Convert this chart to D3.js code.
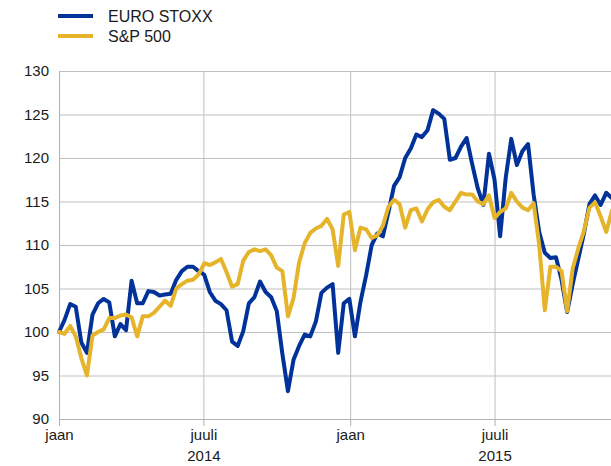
<!DOCTYPE html>
<html>
<head>
<meta charset="utf-8">
<script src="https://cdn.jsdelivr.net/npm/d3@7"></script>
<style>
  body { margin: 0; background: #fff; }
  svg { display: block; font-family: "Liberation Sans", Arial, sans-serif; }
</style>
</head>
<body>
<div id="chart-container"></div>
<script>
// weekly observations, index 1 Jan 2014 = 100
var startDate = "2014-01-01";

var euroStoxx = [
	100.0, 101.4, 103.2, 102.9, 98.8, 97.6, 102.0, 103.3, 103.8, 103.4,
	99.5, 100.9, 100.2, 105.9, 103.3, 103.3, 104.7, 104.6, 104.2, 104.3,
	104.4, 106.0, 107.0, 107.5, 107.5, 107.0, 106.6, 104.6, 103.6, 103.2,
	102.5, 98.9, 98.4, 100.1, 103.3, 104.0, 105.8, 104.6, 104.0, 102.4,
	97.5, 93.2, 96.8, 98.4, 99.7, 99.5, 101.2, 104.5, 105.1, 105.5,
	97.6, 103.3, 103.8, 99.5, 103.5, 106.5, 110.0, 111.3, 111.0, 113.8,
	116.8, 117.8, 120.0, 121.1, 122.7, 122.4, 123.2, 125.5, 125.1, 124.5,
	119.8, 120.0, 121.3, 122.3, 119.3, 116.5, 114.6, 120.5, 117.5, 111.0,
	117.7, 122.2, 119.2, 120.8, 121.6, 115.8, 111.5, 109.1, 108.5, 108.6,
	106.0, 102.3, 105.5, 108.4, 111.3, 114.7, 115.7, 114.6, 116.0, 115.4
];

var sp500 = [
	100.0, 99.8, 100.7, 99.5, 97.0, 95.0, 99.6, 100.0, 100.3, 101.6,
	101.6, 101.9, 102.0, 101.7, 99.5, 101.8, 101.8, 102.2, 102.9, 103.6,
	103.0, 105.0, 105.5, 105.9, 106.0, 106.6, 107.9, 107.7, 108.0, 108.4,
	106.9, 105.2, 105.5, 108.2, 109.2, 109.5, 109.3, 109.5, 108.8, 107.4,
	107.0, 101.8, 103.9, 108.0, 110.2, 111.4, 111.9, 112.2, 113.0, 111.8,
	107.6, 113.5, 113.8, 109.4, 112.0, 111.8, 110.8, 111.1, 112.2, 114.4,
	115.2, 114.7, 112.0, 114.0, 114.2, 112.7, 114.1, 114.9, 115.2, 114.4,
	114.0, 115.0, 116.0, 115.8, 115.8, 115.0, 114.7, 115.7, 113.1, 113.8,
	114.2, 116.0, 115.0, 114.3, 114.0, 114.8, 110.0, 102.5, 107.5, 107.5,
	107.0, 102.4, 107.3, 109.6, 111.6, 114.3, 114.9, 113.3, 111.5, 113.9
];

var seriesNames = ["EURO STOXX", "S&P 500"];
var seriesColors = ["#003299", "#e5b42a"];

var xTickDates = ["2014-01-01", "2014-07-01", "2015-01-01", "2015-07-01"];
var xTickLabels = ["jaan", "juuli", "jaan", "juuli"];
var xTickYears = ["", "2014", "", "2015"];
var yTicks = [90, 95, 100, 105, 110, 115, 120, 125, 130];

var size = { width: 611, height: 466 };
var margin = { top: 71, right: 0, bottom: 47, left: 59 };
var plotWidth = size.width - margin.left - margin.right;
var plotHeight = size.height - margin.top - margin.bottom;

var parseDate = d3.timeParse("%Y-%m-%d");
var start = parseDate(startDate);

var svg = d3.select("#chart-container")
	.append("svg")
	.attr("width", size.width)
	.attr("height", size.height);

var x = d3.scaleTime()
	.domain([start, parseDate("2015-11-24")])
	.range([margin.left, margin.left + plotWidth]);

var y = d3.scaleLinear()
	.domain([90, 130])
	.range([margin.top + plotHeight, margin.top]);

// horizontal grid
svg.append("g")
	.attr("class", "grid")
	.attr("transform", "translate(" + margin.left + ",0)")
	.call(d3.axisLeft(y).tickValues(yTicks).tickSize(-plotWidth).tickFormat(""))
	.call(function(g) { g.select(".domain").remove(); });

// vertical grid
svg.append("g")
	.attr("class", "grid")
	.attr("transform", "translate(0," + margin.top + ")")
	.call(d3.axisBottom(x).tickValues(xTickDates.map(parseDate)).tickSize(plotHeight).tickFormat(""))
	.call(function(g) { g.select(".domain").remove(); });

svg.selectAll(".grid line")
	.attr("stroke", "#c0c0c0")
	.attr("stroke-width", 1);

// y axis
var yAxis = svg.append("g")
	.attr("transform", "translate(" + margin.left + ",0)")
	.call(d3.axisLeft(y).tickValues(yTicks).tickSize(0).tickPadding(10));

yAxis.select(".domain").attr("stroke", "#b0b0b0");
yAxis.selectAll("text")
	.attr("font-size", 15)
	.attr("font-family", "Liberation Sans, Arial, sans-serif")
	.attr("fill", "#1a1a1a");

// x axis
var xAxis = svg.append("g")
	.attr("transform", "translate(0," + (margin.top + plotHeight) + ")")
	.call(d3.axisBottom(x)
		.tickValues(xTickDates.map(parseDate))
		.tickSize(7)
		.tickSizeOuter(0)
		.tickPadding(3.5)
		.tickFormat(function(d, i) { return xTickLabels[i]; }));

xAxis.select(".domain").attr("stroke", "#b0b0b0");
xAxis.selectAll(".tick line").attr("stroke", "#b0b0b0");
xAxis.selectAll("text")
	.attr("font-size", 15)
	.attr("font-family", "Liberation Sans, Arial, sans-serif")
	.attr("fill", "#1a1a1a");

xAxis.selectAll(".tick")
	.append("text")
	.attr("y", 42)
	.attr("text-anchor", "middle")
	.attr("font-size", 15)
	.attr("font-family", "Liberation Sans, Arial, sans-serif")
	.attr("fill", "#1a1a1a")
	.text(function(d, i) { return xTickYears[i]; });

// lines
var line = d3.line()
	.x(function(d, i) { return x(d3.timeDay.offset(start, 7 * i)); })
	.y(function(d) { return y(d); });

[euroStoxx, sp500].forEach(function(series, k) {
	svg.append("path")
		.datum(series)
		.attr("fill", "none")
		.attr("stroke", seriesColors[k])
		.attr("stroke-width", 4)
		.attr("stroke-linejoin", "round")
		.attr("stroke-linecap", "round")
		.attr("d", line);
});

// legend
var legend = svg.append("g");

seriesNames.forEach(function(name, k) {
	legend.append("line")
		.attr("x1", 58)
		.attr("x2", 93)
		.attr("y1", 16 + 20 * k)
		.attr("y2", 16 + 20 * k)
		.attr("stroke", seriesColors[k])
		.attr("stroke-width", 4);

	legend.append("text")
		.attr("x", 108)
		.attr("y", 22 + 20 * k)
		.attr("font-size", 16)
		.attr("fill", "#1a1a1a")
		.text(name);
});
</script>
</body>
</html>
